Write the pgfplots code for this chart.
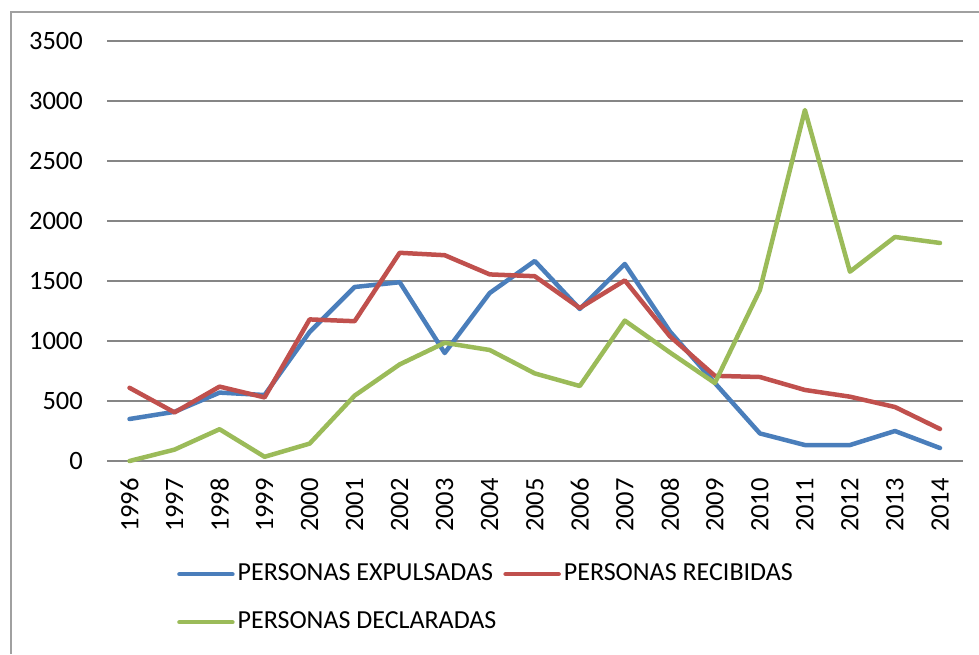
\documentclass[border=0pt]{standalone}
\usepackage{pgfplots}
\pgfplotsset{compat=1.18}
\usepackage{fontspec}
\setmainfont{Carlito}
\definecolor{cblue}{RGB}{74,126,187}
\definecolor{cred}{RGB}{192,80,77}
\definecolor{cgreen}{RGB}{155,187,89}
\definecolor{cgrid}{RGB}{134,134,134}
\definecolor{cborder}{RGB}{160,160,160}
\begin{document}
\begin{tikzpicture}[x=1pt,y=1pt]
\path[use as bounding box] (0,0) rectangle (979,-654);
\draw[cborder, line width=1.5pt] (11,-654) -- (11,-12) -- (985,-12);
\begin{axis}[
  at={(107pt,-461pt)}, anchor=south west,
  scale only axis, width=855.5pt, height=420pt,
  xmin=-0.5, xmax=18.5, ymin=0, ymax=3500,
  clip=false,
  axis x line*=bottom, axis y line*=left,
  axis line style={draw=none},
  major tick length=0pt,
  ytick={0,500,...,3500},
  xtick={0,...,18},
  xticklabels={1996,1997,1998,1999,2000,2001,2002,2003,2004,2005,2006,2007,2008,2009,2010,2011,2012,2013,2014},
  ymajorgrids, grid style={cgrid, line width=1.4pt},
  /pgf/number format/assume math mode=true,
  /pgf/number format/1000 sep={},
  ticklabel style={font=\fontsize{26.5}{31}\selectfont, inner sep=0pt},
  yticklabel shift=24pt,
  xticklabel style={rotate=90, anchor=east},
  xticklabel shift=17pt,
  legend columns=2,
  legend cell align=left,
  legend style={at={(0.0818,-0.2405)}, anchor=north west, draw=none, fill=none,
    inner sep=0pt, row sep=24pt,
    font=\fontsize{26}{31}\selectfont,
    nodes={text height=18pt, text depth=6pt, inner sep=0pt},
    /tikz/every odd column/.append style={column sep=3pt},
    /tikz/every even column/.append style={column sep=7pt}},
  legend image code/.code={\draw[#1, line cap=round] (0pt,0pt) -- (53pt,0pt);},
  every axis plot/.append style={line width=4.5pt, line join=round, line cap=round},
]
\addplot[cblue] coordinates {(0,350) (1,410) (2,570) (3,550) (4,1075) (5,1450) (6,1490) (7,900) (8,1400) (9,1667) (10,1267) (11,1642) (12,1080) (13,650) (14,230) (15,133) (16,133) (17,250) (18,108)};
\addlegendentry{PERSONAS EXPULSADAS}
\addplot[cred] coordinates {(0,610) (1,405) (2,620) (3,530) (4,1180) (5,1165) (6,1735) (7,1715) (8,1555) (9,1540) (10,1275) (11,1505) (12,1040) (13,710) (14,700) (15,592) (16,536) (17,450) (18,267)};
\addlegendentry{PERSONAS RECIBIDAS}
\addplot[cgreen] coordinates {(0,0) (1,95) (2,265) (3,35) (4,145) (5,545) (6,805) (7,985) (8,925) (9,730) (10,625) (11,1170) (12,905) (13,650) (14,1425) (15,2925) (16,1578) (17,1867) (18,1817)};
\addlegendentry{PERSONAS DECLARADAS}
\end{axis}
\end{tikzpicture}
\end{document}
